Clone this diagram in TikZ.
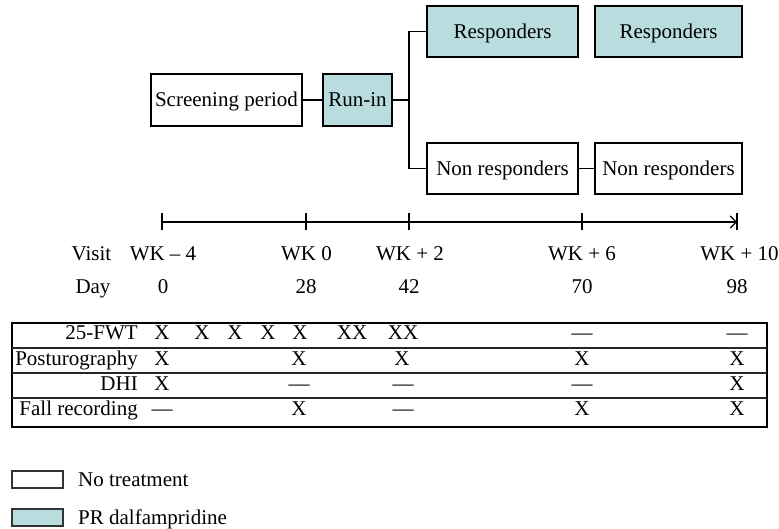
\documentclass[tikz,border=0pt]{standalone}
\usepackage{fontspec}
\setmainfont{Liberation Serif}
\usetikzlibrary{arrows.meta}
\definecolor{teal1}{RGB}{185,220,223}
\tikzset{
  txt/.style={inner sep=0pt, text height=13.9pt, text depth=0pt, font=\fontsize{21}{25}\selectfont},
  box/.style={txt, draw=black, line width=1.4pt, fill=white},
  tbox/.style={box, fill=teal1},
  conn/.style={line width=1.4pt},
  tick/.style={line width=1.2pt},
  rowline/.style={line width=1.4pt, draw=black!85},
  lgbox/.style={draw=black!80, line width=1.3pt, minimum width=51pt, minimum height=17pt, inner sep=0pt},
}
\begin{document}
\begin{tikzpicture}[x=1pt,y=-1pt]
\useasboundingbox (0,0) rectangle (779,529);
% flow boxes
\node[box, minimum width=151pt, minimum height=52pt] (scr) at (226.5,100) {Screening period};
\node[tbox, minimum width=69pt, minimum height=52pt] (run) at (357.5,100) {Run-in};
\node[tbox, minimum width=151pt, minimum height=51pt] (r1) at (502.5,31.5) {Responders};
\node[tbox, minimum width=147pt, minimum height=51pt] (r2) at (668.5,31.5) {Responders};
\node[box, minimum width=151pt, minimum height=51pt] (n1) at (502.5,168.5) {Non responders};
\node[box, minimum width=147pt, minimum height=51pt] (n2) at (668.5,168.5) {Non responders};
\coordinate (br) at (409,100);
\draw[conn] (scr.east) -- (run.west);
\draw[conn] (run.east) -- (br);
\draw[conn] (r1.west) -| (br) |- (n1.west);
\draw[conn] (n1.east) -- (n2.west);
% timeline
\coordinate (t0) at (162,222);
\coordinate (t1) at (306,222);
\coordinate (t2) at (409,222);
\coordinate (t3) at (582,222);
\coordinate (t4) at (737,222);
\draw[tick, -{Straight Barb[length=6pt,width=12pt]}] (t0) -- (t4);
\foreach \t in {t0,t1,t2,t3,t4} \draw[tick] ([yshift=-8.5pt]\t) -- ([yshift=8.5pt]\t);
\node[txt] (visit) at (91.5,253.5) {Visit};
\node[txt] (w0) at (163,253.5) {WK – 4};
\node[txt] (w1) at (306.5,253.5) {WK 0};
\node[txt] (w2) at (410,253.5) {WK + 2};
\node[txt] (w3) at (582,253.5) {WK + 6};
\node[txt] (w4) at (739.5,253.5) {WK + 10};
\node[txt] (day) at (93,286.5) {Day};
\node[txt] (d0) at (163,286.5) {0};
\node[txt] (d1) at (306,286.5) {28};
\node[txt] (d2) at (409,286.5) {42};
\node[txt] (d3) at (582,286.5) {70};
\node[txt] (d4) at (737,286.5) {98};
% table
\draw[line width=1.4pt] (12,323) rectangle (767,427);
\draw[rowline] (12,348) -- (767,348);
\draw[rowline] (12,373) -- (767,373);
\draw[rowline] (12,398) -- (767,398);
\node[txt, anchor=east] (l1) at (138,333) {25-FWT};
\node[txt, anchor=east] (l2) at (138,358.5) {Posturography};
\node[txt, anchor=east] (l3) at (138,383.5) {DHI};
\node[txt, anchor=east] (l4) at (138,408.5) {Fall recording};
% row 1
\foreach \x/\s [count=\i] in {162/X,202/X,235/X,268/X,300/X,352/XX,403/XX,582/—,737/—}
  \node[txt] (a\i) at (\x,333) {\s};
% row 2
\foreach \x/\s [count=\i] in {162/X,299/X,402/X,582/X,737/X}
  \node[txt] (b\i) at (\x,358.5) {\s};
% row 3
\foreach \x/\s [count=\i] in {162/X,299/—,403/—,582/—,737/X}
  \node[txt] (c\i) at (\x,383.5) {\s};
% row 4
\foreach \x/\s [count=\i] in {162/—,299/X,403/—,582/X,737/X}
  \node[txt] (e\i) at (\x,408.5) {\s};
% legend
\node[lgbox, fill=white] (lg1) at (37.5,479.5) {};
\node[lgbox, fill=teal1] (lg2) at (37.5,517.5) {};
\node[txt, anchor=west] (lt1) at (78,480) {No treatment};
\node[txt, anchor=west] (lt2) at (78,518) {PR dalfampridine};
\end{tikzpicture}
\end{document}
